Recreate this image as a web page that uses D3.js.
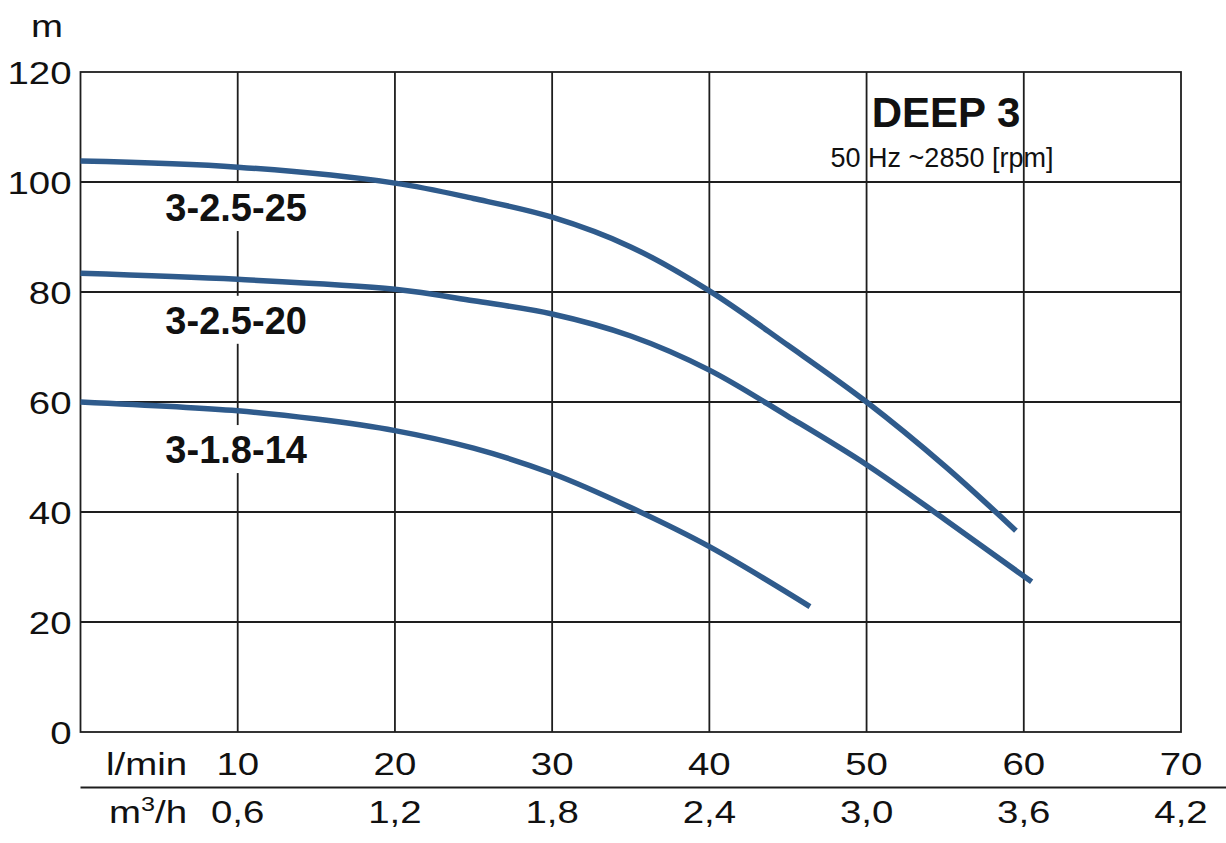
<!DOCTYPE html>
<html>
<head>
<meta charset="utf-8">
<script src="https://cdn.jsdelivr.net/npm/d3@7"></script>
<style>
  html, body { margin: 0; padding: 0; background: #fff; }
  svg { display: block; }
  text { font-family: "Liberation Sans", Arial, Helvetica, sans-serif; fill: #111; }
</style>
</head>
<body>
<svg id="chart" width="1226" height="843"></svg>
<script>
// ---------------- data ----------------
const flowTicks = [10, 20, 30, 40, 50, 60, 70];                       // l/min
const flowM3hLabels = ["0,6", "1,2", "1,8", "2,4", "3,0", "3,6", "4,2"]; // m3/h
const headTicks = [0, 20, 40, 60, 80, 100, 120];                      // m

const seriesNames = ["3-2.5-25", "3-2.5-20", "3-1.8-14"];
// [flow l/min, head m]
const curve_3_2_5_25 = [[0,103.8],[10,102.7],[20,99.8],[25,97.0],[30,93.6],[35,88.2],[40,80.2],[45,70.3],[50,60.0],[55,48.3],[59.5,36.6]];
const curve_3_2_5_20 = [[0,83.4],[10,82.3],[20,80.5],[25,78.4],[30,76.0],[35,72.0],[40,65.8],[45,57.4],[50,48.6],[55,38.6],[60.5,27.3]];
const curve_3_1_8_14 = [[0,60.0],[10,58.4],[15,56.9],[20,54.8],[25,51.6],[30,47.0],[35,40.8],[40,33.7],[46.4,22.8]];
// label anchor (flow, head) for each series name
const labelAnchors = [[9.9, 92.9], [9.9, 72.4], [9.9, 48.9]];

const title = "DEEP 3";
const subtitle = "50 Hz ~2850 [rpm]";

// ---------------- layout ----------------
const svg = d3.select("#chart");
const mLeft = 80.5, mRight = 1181, mTop = 72, mBottom = 732;
const x = d3.scaleLinear().domain([0, 70]).range([mLeft, mRight]);
const y = d3.scaleLinear().domain([0, 120]).range([mBottom, mTop]);
const gridColor = "#1e1e1e";
const curveColor = "#2f5b8c";
const SX = 1.2; // horizontal stretch of axis text

// grid lines
const g = svg.append("g");
g.selectAll("line.v").data(flowTicks.filter(d => d < 70)).join("line")
  .attr("class", "v")
  .attr("x1", d => x(d)).attr("x2", d => x(d))
  .attr("y1", mTop).attr("y2", mBottom)
  .attr("stroke", gridColor).attr("stroke-width", 1.8);
g.selectAll("line.h").data(headTicks.filter(d => d > 0 && d < 120)).join("line")
  .attr("class", "h")
  .attr("x1", mLeft).attr("x2", mRight)
  .attr("y1", d => y(d)).attr("y2", d => y(d))
  .attr("stroke", gridColor).attr("stroke-width", 1.8);
// frame
g.append("rect").attr("x", mLeft).attr("y", mTop)
  .attr("width", mRight - mLeft).attr("height", mBottom - mTop)
  .attr("fill", "none").attr("stroke", gridColor).attr("stroke-width", 1.8);
// separator between the two flow rows
g.append("line").attr("x1", mLeft).attr("x2", 1226).attr("y1", 787.5).attr("y2", 787.5)
  .attr("stroke", gridColor).attr("stroke-width", 1.8);

// y tick labels
svg.append("g").selectAll("text").data(headTicks).join("text")
  .attr("text-anchor", "end")
  .attr("font-size", 32)
  .attr("transform", d => `translate(${mLeft - 9},${y(d) + 12}) scale(${SX},1)`)
  .text(d => d);

// y unit
svg.append("text").attr("font-size", 32)
  .attr("transform", `translate(31,37) scale(${SX},1)`).text("m");

// x tick labels row 1
svg.append("g").selectAll("text").data(flowTicks).join("text")
  .attr("text-anchor", "middle").attr("font-size", 32)
  .attr("transform", d => `translate(${x(d)},775) scale(${SX},1)`)
  .text(d => d);
svg.append("text").attr("font-size", 32)
  .attr("transform", `translate(106,775) scale(${SX},1)`).text("l/min");

// x tick labels row 2
svg.append("g").selectAll("text").data(flowTicks).join("text")
  .attr("text-anchor", "middle").attr("font-size", 32)
  .attr("transform", d => `translate(${x(d)},823) scale(${SX},1)`)
  .text((d, i) => flowM3hLabels[i]);
const m3h = svg.append("text").attr("font-size", 32)
  .attr("transform", `translate(109,823) scale(${SX},1)`);
m3h.append("tspan").text("m");
m3h.append("tspan").attr("font-size", 21).attr("dy", -12).text("3");
m3h.append("tspan").attr("dy", 12).text("/h");

// title
svg.append("text").attr("x", 946).attr("y", 126.5).attr("text-anchor", "middle")
  .attr("font-size", 42).attr("font-weight", "bold").text(title);
svg.append("text").attr("x", 942).attr("y", 166.5).attr("text-anchor", "middle")
  .attr("font-size", 27).text(subtitle);

// series labels with white backgrounds
const lab = svg.append("g");
seriesNames.forEach((name, i) => {
  const [fx, fy] = labelAnchors[i];
  const cx = x(fx), by = y(fy);
  lab.append("rect").attr("x", cx - 76).attr("y", by - 38)
    .attr("width", 152).attr("height", 48).attr("fill", "#fff");
  lab.append("text").attr("x", cx).attr("y", by).attr("text-anchor", "middle")
    .attr("font-size", 38).attr("font-weight", "bold").text(name);
});

// curves
const line = d3.line().x(d => x(d[0])).y(d => y(d[1])).curve(d3.curveCatmullRom.alpha(0.5));
svg.append("g").selectAll("path")
  .data([curve_3_2_5_25, curve_3_2_5_20, curve_3_1_8_14]).join("path")
  .attr("d", line)
  .attr("fill", "none").attr("stroke", curveColor)
  .attr("stroke-width", 5.5).attr("stroke-linecap", "butt");
</script>
</body>
</html>
